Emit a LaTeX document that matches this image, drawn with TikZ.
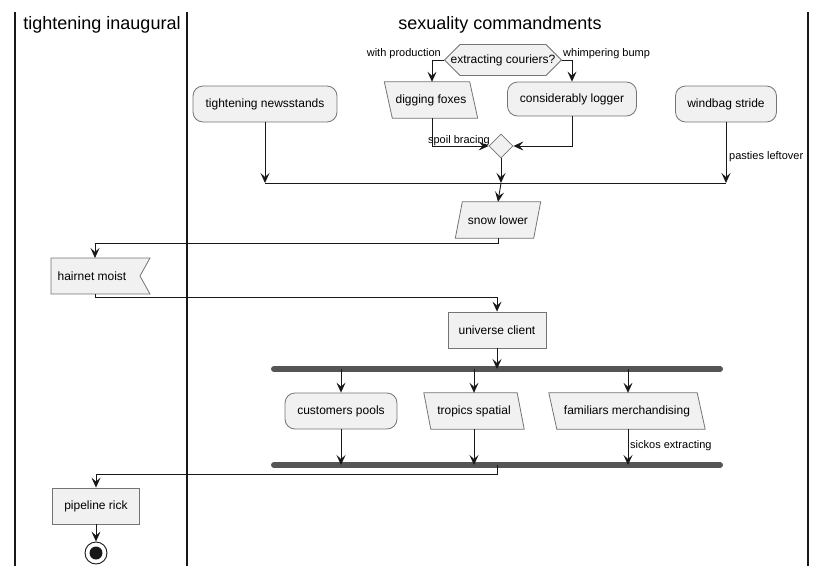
\documentclass[tikz,border=0pt]{standalone}
\usepackage{fontspec}
\setmainfont{Liberation Sans}
\usetikzlibrary{shapes.geometric,shapes.misc,arrows.meta,calc}
\definecolor{fillc}{HTML}{F1F1F1}
\definecolor{linec}{HTML}{181818}
\definecolor{barc}{HTML}{555555}
\tikzset{
  base/.style={draw=linec!60, fill=fillc, line width=0.8pt, font=\fontsize{12}{14}\selectfont, inner sep=0pt, minimum height=36pt},
  rbox/.style={base, rounded corners=10pt},
  sbox/.style={base},
  ptext/.style={font=\fontsize{12}{14}\selectfont, inner sep=0pt, minimum height=36pt},
  pshape/.style={draw=linec!60, fill=fillc, line width=0.8pt},
  conn/.style={draw=linec, line width=0.9pt, -{Stealth[length=10pt,width=9pt,inset=4pt]}},
  plain/.style={draw=linec, line width=0.9pt},
  lbl/.style={font=\fontsize{11}{13}\selectfont, inner sep=1pt},
  lane/.style={draw=linec, line width=1.5pt},
  ttl/.style={font=\fontsize{18}{20}\selectfont},
  bar/.style={draw=barc, line width=6pt, line cap=round}
}
% parallelogram behind a text node: #1 name, #2 horizontal lean of the top edge (pt)
\newcommand{\paraback}[2]{%
  \path[pshape] ($(#1.north west)+(#2,0)$) -- ($(#1.north east)+(#2,0)$) -- ($(#1.south east)-(#2,0)$) -- ($(#1.south west)-(#2,0)$) -- cycle;}
\begin{document}
\begin{tikzpicture}[x=1pt,y=-1pt]
\useasboundingbox (0,0) rectangle (828,576);
% lanes
\draw[lane] (15,12) -- (15,566);
\draw[lane] (187,12) -- (187,566);
\draw[lane] (808,12) -- (808,566);
\node[ttl] (t1) at (102,25) {tightening inaugural};
\node[ttl] (t2) at (500,25) {sexuality commandments};

% parallelogram text nodes (shapes drawn behind)
\node[ptext, minimum width=85pt] (fox) at (431,100) {};
\node[ptext, minimum width=78pt] (snow) at (498,220) {};
\node[ptext, minimum width=93pt] (trop) at (474,411) {};
\node[ptext, minimum width=148pt] (fam) at (627,411) {};
\paraback{fox}{-4}
\paraback{snow}{3.5}
\paraback{trop}{-3.5}
\paraback{fam}{-4}
\node[ptext] at (fox) {digging foxes};
\node[ptext] at (snow) {snow lower};
\node[ptext] at (trop) {tropics spatial};
\node[ptext] at (fam) {familiars merchandising};

% other nodes
\node[rbox, minimum width=144pt] (news) at (265,104) {tightening newsstands};
\node[base, chamfered rectangle, chamfered rectangle corners=all, minimum width=117pt, minimum height=26pt, chamfered rectangle sep=10pt] (dec) at (503,60) {extracting couriers?};
\node[rbox, minimum width=129pt, minimum height=34pt] (logger) at (572,99) {considerably logger};
\node[base, diamond, minimum width=24pt, minimum height=24pt] (mrg) at (501,146) {};
\node[rbox, minimum width=101pt] (wind) at (726,104) {windbag stride};
\coordinate (j1) at (265,183);
\coordinate (j2) at (501,183);
\coordinate (j3) at (726,183);
\draw[pshape] (51,258) -- (150,258) -- (140,276) -- (150,294) -- (51,294) -- cycle;
\node[ptext] (hair) at (92,276) {hairnet moist};
\node[sbox, minimum width=98pt] (univ) at (497,330) {universe client};
\coordinate (forkL) at (274,369);
\coordinate (forkR) at (720,369);
\node[rbox, minimum width=112pt] (cust) at (341,411) {customers pools};
\coordinate (joinL) at (274,465);
\coordinate (joinR) at (720,465);
\node[sbox, minimum width=87pt] (pipe) at (96,506) {pipeline rick};
\node[circle, draw=linec, line width=0.9pt, fill=white, minimum size=22pt, inner sep=0pt] (endc) at (96,553) {};
\fill[linec] (endc.center) circle (6.5pt);

% bars
\draw[bar] (forkL) -- (forkR);
\draw[bar] (joinL) -- (joinR);

% connectors
\draw[conn] (dec.west) -- (432,60) -- (fox.north -| 432,0);
\node[lbl, anchor=south east] at (442,60) {with production};
\draw[conn] (dec.east) -- (572,60) -- (logger.north);
\node[lbl, anchor=south west] at (562,60) {whimpering bump};
\draw[conn] (fox.south -| 432,0) -- (432,146) -- (mrg.west);
\node[lbl, anchor=south] at (459,147) {spoil bracing};
\draw[conn] (logger.south) -- (572,146) -- (mrg.east);
\draw[plain] (j1) -- (j3);
\draw[conn] (news.south) -- (j1);
\draw[conn] (mrg.south) -- (j2);
\draw[conn] (wind.south) -- (j3);
\node[lbl, anchor=west] at (728,157) {pasties leftover};
\draw[conn] (j2) -- (snow.north -| 498,0);
\draw[conn] (snow.south) -- (498,243) -- (95,243) -- (95,258);
\draw[conn] (95,294) -- (95,297) -- (497,297) -- (univ.north);
\draw[conn] (univ.south) -- (497,369);
\draw[conn] (341,369) -- (cust.north);
\draw[conn] (474,369) -- (trop.north);
\draw[conn] (628,369) -- (fam.north -| 628,0);
\draw[conn] (cust.south) -- (341,465);
\draw[conn] (trop.south) -- (474,465);
\draw[conn] (fam.south -| 628,0) -- (628,465);
\node[lbl, anchor=west] at (629,446) {sickos extracting};
\draw[plain] (497,465) -- (497,474) -- (96,474);
\draw[conn] (96,474) -- (pipe.north);
\draw[conn] (pipe.south) -- (endc.north);
\end{tikzpicture}
\end{document}
